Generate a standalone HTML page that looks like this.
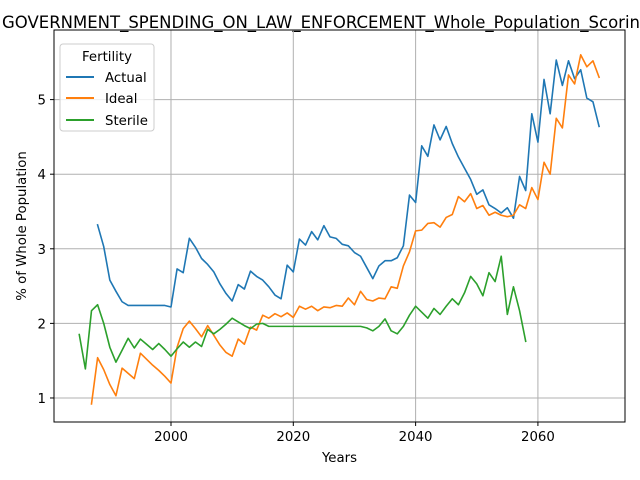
<!DOCTYPE html>
<html><head><meta charset="utf-8"><style>
html,body{margin:0;padding:0;background:#fff;}
svg{display:block;font-family:"DejaVu Sans","Liberation Sans",sans-serif;}
</style></head><body>
<svg id="chart" width="640" height="480" viewBox="0 0 640 480">
<text x="2" y="28" font-size="16.5" fill="#000">GOVERNMENT_SPENDING_ON_LAW_ENFORCEMENT_Whole_Population_Scoring</text>
<g id="grid"></g>
<g id="series"></g>
<rect x="54" y="30" width="571" height="392" fill="none" stroke="#000" stroke-width="1"/>
<g id="ticks"></g>
<text x="339.5" y="462" font-size="13.3" text-anchor="middle">Years</text>
<text transform="translate(26,226) rotate(-90)" font-size="13.3" text-anchor="middle">% of Whole Population</text>
<g>
<rect x="60" y="44" width="94" height="87" rx="3" fill="#fff" fill-opacity="0.8" stroke="#ccc"/>
<text x="107" y="61" font-size="13.3" text-anchor="middle">Fertility</text>
<line x1="66" y1="77" x2="94" y2="77" stroke="#1f77b4" stroke-width="2"/>
<text x="105" y="82" font-size="13.3">Actual</text>
<line x1="66" y1="98" x2="94" y2="98" stroke="#ff7f0e" stroke-width="2"/>
<text x="105" y="103" font-size="13.3">Ideal</text>
<line x1="66" y1="120" x2="94" y2="120" stroke="#2ca02c" stroke-width="2"/>
<text x="105" y="125" font-size="13.3">Sterile</text>
</g>
</svg>
<script>
const xTicks = [2000, 2020, 2040, 2060];
const yTicks = [1, 2, 3, 4, 5];
const actualStart = 1988;
const actualValues = [3.32,3.03,2.58,2.43,2.29,2.24,2.24,2.24,2.24,2.24,2.24,2.24,2.22,2.73,2.68,3.14,3.02,2.87,2.79,2.69,2.53,2.40,2.30,2.52,2.46,2.70,2.63,2.58,2.49,2.38,2.33,2.78,2.69,3.13,3.05,3.23,3.12,3.31,3.16,3.14,3.06,3.04,2.95,2.90,2.75,2.60,2.77,2.84,2.84,2.88,3.04,3.72,3.62,4.38,4.24,4.66,4.46,4.64,4.41,4.23,4.08,3.93,3.73,3.79,3.59,3.54,3.48,3.55,3.41,3.97,3.78,4.81,4.43,5.27,4.81,5.53,5.19,5.52,5.28,5.40,5.02,4.97,4.64];
const idealStart = 1987;
const idealValues = [0.92,1.54,1.38,1.18,1.03,1.40,1.33,1.26,1.60,1.52,1.44,1.37,1.29,1.20,1.68,1.93,2.03,1.93,1.82,1.97,1.84,1.71,1.61,1.56,1.79,1.72,1.95,1.91,2.11,2.07,2.13,2.09,2.14,2.08,2.23,2.19,2.23,2.17,2.22,2.21,2.24,2.23,2.34,2.25,2.43,2.32,2.30,2.34,2.33,2.49,2.47,2.77,2.96,3.24,3.25,3.34,3.35,3.29,3.42,3.46,3.70,3.63,3.74,3.54,3.58,3.45,3.49,3.45,3.43,3.45,3.59,3.54,3.82,3.66,4.16,4.00,4.75,4.62,5.33,5.21,5.60,5.44,5.52,5.30];
const sterileStart = 1985;
const sterileValues = [1.85,1.39,2.17,2.25,2.00,1.68,1.48,1.64,1.80,1.67,1.79,1.72,1.65,1.73,1.65,1.56,1.66,1.75,1.68,1.75,1.69,1.92,1.86,1.92,1.99,2.07,2.02,1.97,1.93,1.99,2.00,1.96,1.96,1.96,1.96,1.96,1.96,1.96,1.96,1.96,1.96,1.96,1.96,1.96,1.96,1.96,1.96,1.94,1.90,1.96,2.06,1.90,1.86,1.96,2.11,2.23,2.15,2.07,2.20,2.12,2.23,2.33,2.25,2.41,2.63,2.53,2.37,2.68,2.56,2.90,2.12,2.49,2.17,1.76];

const L=54,R=625,T=30,B=422;
const xMin=1980.87,xMax=2074.24,yMin=0.678,yMax=5.933;
function xs(v){return L+(v-xMin)/(xMax-xMin)*(R-L);}
function ys(v){return B-(v-yMin)/(yMax-yMin)*(B-T);}
const NS="http://www.w3.org/2000/svg";
const grid=document.getElementById('grid'), ticks=document.getElementById('ticks'), ser=document.getElementById('series');
function mk(tag,attrs,parent){const e=document.createElementNS(NS,tag);for(const k in attrs)e.setAttribute(k,attrs[k]);parent.appendChild(e);return e;}
xTicks.forEach(t=>{
  const x=xs(t);
  const g=mk('line',{x1:x,x2:x,y1:T,y2:B,stroke:'#b0b0b0','stroke-width':1},grid);
  
  
  const tk=mk('line',{x1:x,x2:x,y1:B,y2:B+4,stroke:'#000'},ticks);
  
  
  const tx=mk('text',{x:x,y:B+19,'font-size':13.3,'text-anchor':'middle'},ticks);
  tx.textContent=t;
  
  
});
yTicks.forEach(t=>{
  const y=ys(t);
  const g=mk('line',{x1:L,x2:R,y1:y,y2:y,stroke:'#b0b0b0','stroke-width':1},grid);
  
  
  const tk=mk('line',{x1:L-4,x2:L,y1:y,y2:y,stroke:'#000'},ticks);
  
  
  const tx=mk('text',{x:L-8,y:y+5,'font-size':13.3,'text-anchor':'end'},ticks);
  tx.textContent=t;
  
  
});
function line(start,vals,color,name){
  const pts=vals.map((v,i)=>xs(start+i).toFixed(2)+','+ys(v).toFixed(2)).join(' ');
  const p=mk('polyline',{points:pts,fill:'none',stroke:color,'stroke-width':1.6,'stroke-linejoin':'round','stroke-linecap':'square'},ser);
  
  
}
line(actualStart,actualValues,'#1f77b4','actual-line');
line(idealStart,idealValues,'#ff7f0e','ideal-line');
line(sterileStart,sterileValues,'#2ca02c','sterile-line');
</script>
</body></html>
